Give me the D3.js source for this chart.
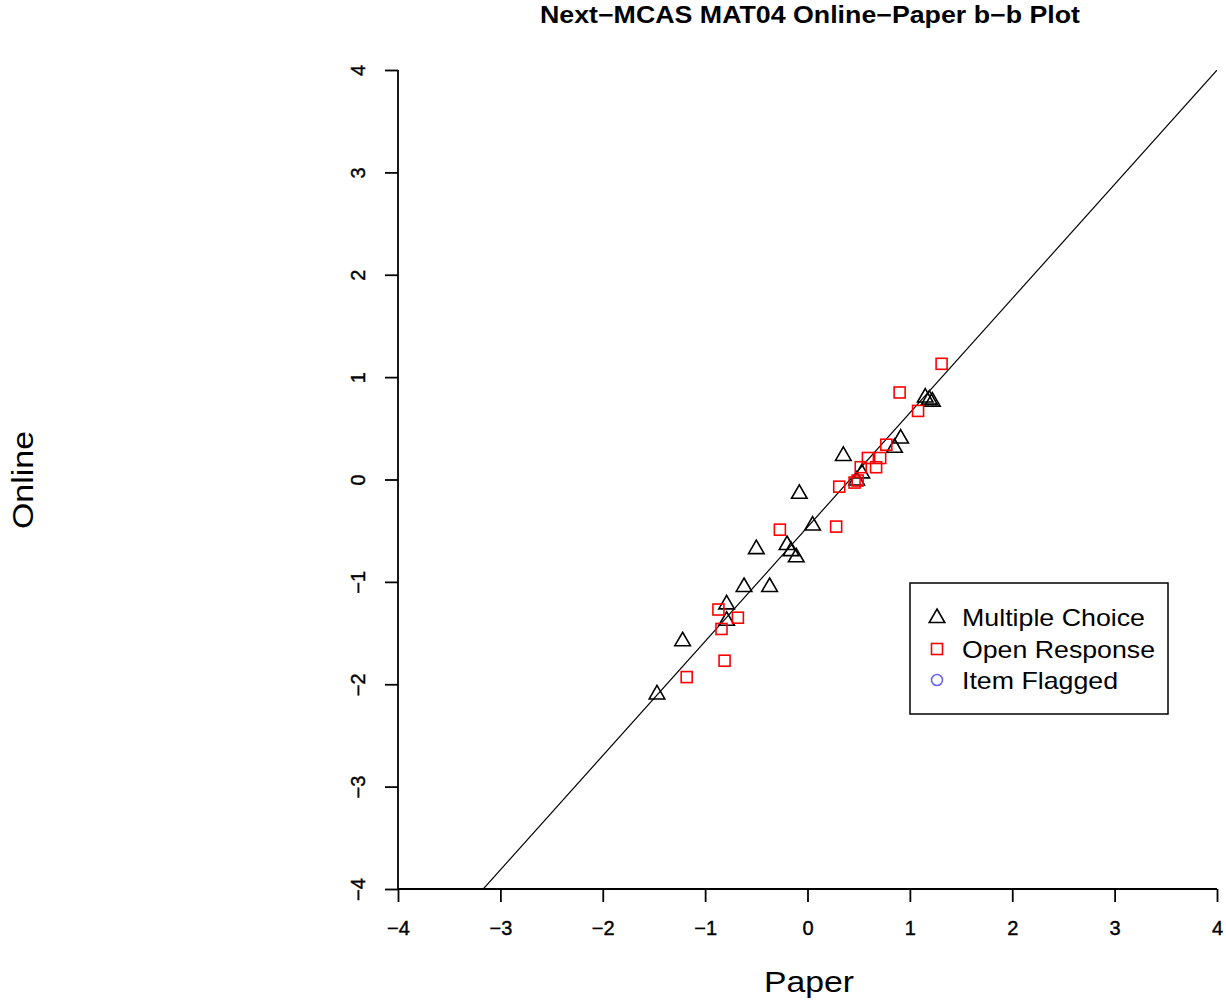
<!DOCTYPE html>
<html><head><meta charset="utf-8">
<script src="https://cdn.jsdelivr.net/npm/d3@7"></script>
<style>body{margin:0;background:#fff;} text{font-family:"Liberation Sans",Arial,sans-serif;}</style>
</head><body>
<svg id="c" width="1226" height="1005"></svg>
<script>
const title = "Next\u2212MCAS MAT04 Online\u2212Paper b\u2212b Plot";
const xLabel = "Paper", yLabel = "Online";
const ticks = [-4,-3,-2,-1,0,1,2,3,4];
const legendLabels = ["Multiple Choice","Open Response","Item Flagged"];
const lineIntercept = -0.465, lineSlope = 1.116;

const mcPaper  = [-1.47,-1.22,-0.79,-0.79,-0.62,-0.37,-0.50,-0.20,-0.16,-0.11,-0.08,0.05,0.35,0.48,0.53,0.85,0.91,1.15,1.19,1.22];
const mcOnline = [-2.09,-1.57,-1.21,-1.37,-1.04,-1.04,-0.67,-0.63,-0.69,-0.75,-0.13,-0.44,0.24,0.00,0.07,0.32,0.41,0.81,0.79,0.77];
const orPaper  = [-1.18,-0.81,-0.84,-0.87,-0.68,-0.27,0.28,0.31,0.46,0.49,0.52,0.59,0.67,0.71,0.77,0.90,1.08,1.31];
const orOnline = [-1.93,-1.77,-1.46,-1.27,-1.35,-0.49,-0.46,-0.07,-0.03,-0.01,0.12,0.21,0.12,0.21,0.34,0.85,0.67,1.13];

const svg = d3.select("#c");
const x = d3.scaleLinear().domain([-4,4]).range([398,1217]);
const y = d3.scaleLinear().domain([-4,4]).range([889,70]);
const fmt = d => (d<0 ? "\u2212" : "") + Math.abs(d);

// title
svg.append("text").attr("x",810).attr("y",23).attr("text-anchor","middle")
  .attr("font-weight","bold").attr("font-size",23).attr("textLength",540).attr("lengthAdjust","spacingAndGlyphs").text(title);

// axes
const xa = svg.append("g").attr("transform","translate(0,889)")
  .call(d3.axisBottom(x).tickValues(ticks).tickFormat(fmt).tickSize(13).tickPadding(19));
const ya = svg.append("g").attr("transform","translate(398,0)")
  .call(d3.axisLeft(y).tickValues(ticks).tickFormat(fmt).tickSize(13).tickPadding(26));
[xa,ya].forEach(a=>{
  a.attr("font-size",null).attr("font-family",null);
  a.selectAll("path,line").attr("stroke","#000").attr("stroke-width",1.8);
  a.selectAll("text").style("font-size","20px").style("font-family","'Liberation Sans', Arial, sans-serif")
    .attr("fill","#000").attr("stroke","#000").attr("stroke-width",0.4);});
xa.select(".domain").attr("d","M398,0H1217");
ya.select(".domain").attr("d","M0,70V889");
ya.selectAll(".tick text").attr("text-anchor","middle").attr("dy",null)
  .attr("transform","translate(-40,0) rotate(-90)")
  .attr("x",0).attr("dominant-baseline","central");

// axis labels
svg.append("text").attr("x",809).attr("y",992).attr("text-anchor","middle").attr("font-size",30)
  .attr("textLength",90).attr("lengthAdjust","spacingAndGlyphs").text(xLabel);
svg.append("text").attr("transform","translate(33,480) rotate(-90)").attr("text-anchor","middle").attr("font-size",30)
  .attr("textLength",98).attr("lengthAdjust","spacingAndGlyphs").text(yLabel);

// clip & line
svg.append("clipPath").attr("id","pc").append("rect").attr("x",398).attr("y",70).attr("width",819).attr("height",819);
svg.append("line").attr("clip-path","url(#pc)")
  .attr("x1",x(-4)).attr("y1",y(lineIntercept+lineSlope*-4))
  .attr("x2",x(4)).attr("y2",y(lineIntercept+lineSlope*4))
  .attr("stroke","#000").attr("stroke-width",1.2);

const tri = d3.symbol().type(d3.symbolTriangle).size(105);
const mc = mcPaper.map((p,i)=>({p, o: mcOnline[i]}));
const or = orPaper.map((p,i)=>({p, o: orOnline[i]}));
svg.append("g").selectAll("path").data(mc).join("path")
  .attr("d",tri).attr("transform",d=>`translate(${x(d.p)},${y(d.o)+1})`)
  .attr("fill","none").attr("stroke","#000").attr("stroke-width",1.6);
svg.append("g").selectAll("rect").data(or).join("rect")
  .attr("x",d=>x(d.p)-5.5).attr("y",d=>y(d.o)-5.5).attr("width",11).attr("height",11)
  .attr("fill","none").attr("stroke","#ff0000").attr("stroke-width",1.6);

// legend
const lg = svg.append("g");
lg.append("rect").attr("x",910).attr("y",583).attr("width",258).attr("height",131)
  .attr("fill","#fff").attr("stroke","#000").attr("stroke-width",1.5);
const rows = [617,649,680];
lg.append("path").attr("d",tri).attr("transform",`translate(937,${rows[0]+1})`).attr("fill","none").attr("stroke","#000").attr("stroke-width",1.6);
lg.append("rect").attr("x",937-5.5).attr("y",rows[1]-5.5).attr("width",11).attr("height",11).attr("fill","none").attr("stroke","#ff0000").attr("stroke-width",1.6);
lg.append("circle").attr("cx",937).attr("cy",rows[2]).attr("r",5.5).attr("fill","none").attr("stroke","#6666ff").attr("stroke-width",1.6);
const lw = [183,193,156];
legendLabels.forEach((t,i)=>{
  lg.append("text").attr("x",962).attr("y",rows[i]).attr("dy","0.36em").attr("font-size",24)
    .attr("textLength",lw[i]).attr("lengthAdjust","spacingAndGlyphs").text(t);
});
</script>
</body></html>
